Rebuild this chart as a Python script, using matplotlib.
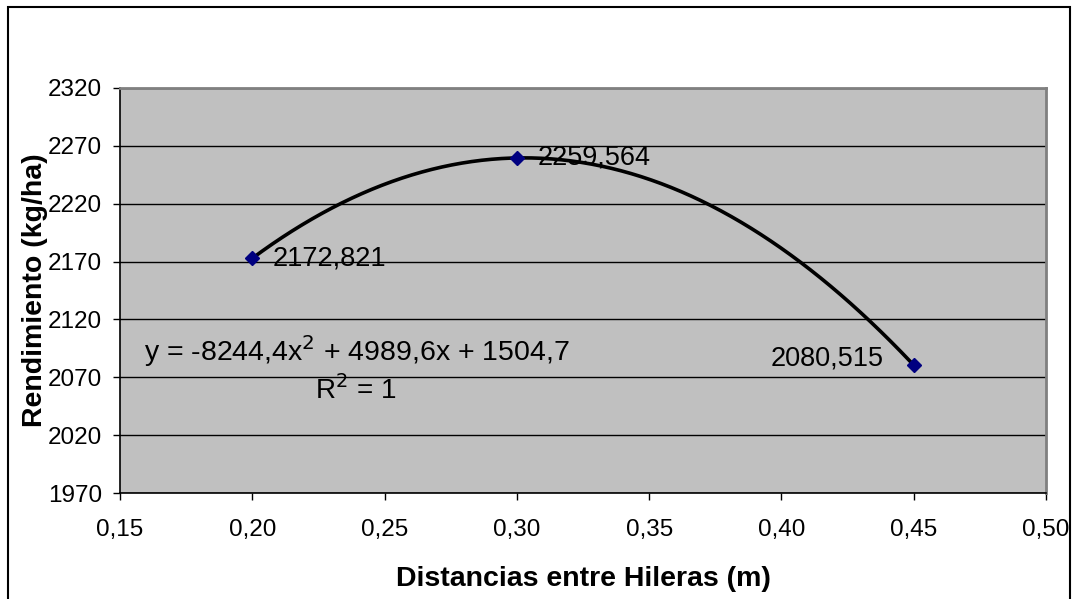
import matplotlib.pyplot as plt
import numpy as np
from matplotlib.patches import Rectangle
from matplotlib.ticker import FuncFormatter

plt.rcParams["font.family"] = ["Liberation Sans", "DejaVu Sans"]

# spacing between rows (m) and yield (kg/ha)
distancias = [0.20, 0.30, 0.45]
rendimiento = [2172.821, 2259.564, 2080.515]
etiquetas = ["2172,821", "2259,564", "2080,515"]
ecuacion = "y = -8244,4x$^{2}$ + 4989,6x + 1504,7"
r2 = "R$^{2}$ = 1"
xticks = [0.15, 0.20, 0.25, 0.30, 0.35, 0.40, 0.45, 0.50]
yticks = [1970, 2020, 2070, 2120, 2170, 2220, 2270, 2320]

fig = plt.figure(figsize=(10.78, 5.99), dpi=100)
ax = fig.add_axes([120 / 1078, 1 - 493 / 599, (1046 - 120) / 1078, (493 - 88) / 599])
ax.set_facecolor("#c0c0c0")

# outer chart frame
fig.patches.append(Rectangle((8 / 1078, -0.02), (1070 - 8) / 1078, 1 - 7 / 599 + 0.02,
                             transform=fig.transFigure, fill=False, ec="black", lw=1.5))

# second-order trend line through the three points
coef = np.polyfit(distancias, rendimiento, 2)
xs = np.linspace(min(distancias), max(distancias), 200)
ax.plot(xs, np.polyval(coef, xs), color="black", lw=2.6, zorder=3)
ax.plot(distancias, rendimiento, linestyle="none", marker="D", ms=7,
        color="#000080", zorder=4)

offsets = [(15, 0, "left"), (15, 0, "left"), (-22, 5, "right")]
for x, y, lab, (dx, dy, ha) in zip(distancias, rendimiento, etiquetas, offsets):
    ax.annotate(lab, (x, y), xytext=(dx, dy), textcoords="offset points",
                ha=ha, va="center", fontsize=19.5, zorder=5)

ax.text(0.2394, 2093, ecuacion, fontsize=20.5, ha="center", va="center")
ax.text(0.2390, 2059, r2, fontsize=20, ha="center", va="center")

ax.set_xlim(0.15, 0.50)
ax.set_ylim(1970, 2320)
ax.set_xticks(xticks)
ax.set_yticks(yticks)
ax.xaxis.set_major_formatter(FuncFormatter(lambda v, p: f"{v:.2f}".replace(".", ",")))
ax.yaxis.set_major_formatter(FuncFormatter(lambda v, p: f"{v:.0f}"))
ax.tick_params(axis="both", direction="out", length=5, width=1, labelsize=17.5)
ax.tick_params(axis="x", pad=14)
ax.tick_params(axis="y", pad=8)
ax.grid(True, axis="y", color="black", lw=1)
ax.set_axisbelow(True)

for s in ("top", "right"):
    ax.spines[s].set_color("#808080")
    ax.spines[s].set_linewidth(2)
for s in ("left", "bottom"):
    ax.spines[s].set_color("black")
    ax.spines[s].set_linewidth(1.2)

ax.set_xlabel("Distancias entre Hileras (m)", fontsize=20.5, fontweight="bold", labelpad=18)
ax.set_ylabel("Rendimiento (kg/ha)", fontsize=20.5, fontweight="bold", labelpad=0)

fig.savefig("out.png", dpi=100)
